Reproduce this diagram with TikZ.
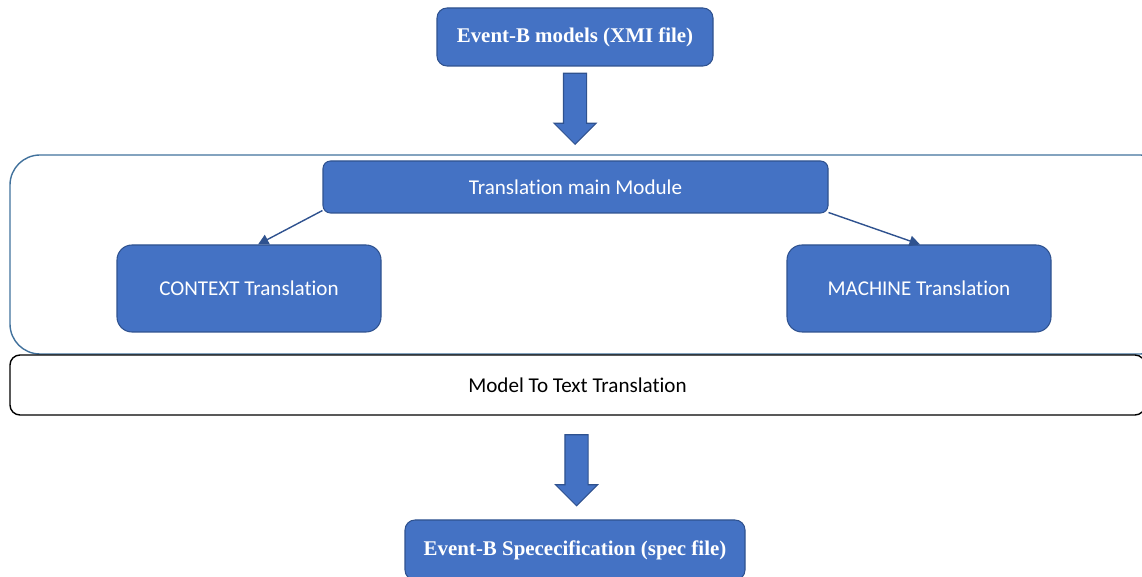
\documentclass[tikz,border=0pt]{standalone}
\usepackage{fontspec}
\setmainfont{Liberation Serif}
\setsansfont{Carlito}[Ligatures={NoCommon}]
\usetikzlibrary{positioning,arrows.meta,shapes.arrows}
\definecolor{boxblue}{HTML}{4472C4}
\definecolor{edgeblue}{HTML}{2F528F}
\definecolor{frameblue}{HTML}{41719C}
\begin{document}
\begin{tikzpicture}[>={Triangle[length=6pt,width=6pt]},
  bluebox/.style={draw=edgeblue,fill=boxblue,line width=0.6pt,text=white,inner sep=0pt},
  filebox/.style={bluebox,rounded corners=0.2cm,font=\fontsize{11.9}{14}\selectfont\bfseries},
  modbox/.style={bluebox,font=\sffamily\fontsize{12}{14}\selectfont},
  blockarrow/.style={single arrow,draw=edgeblue,fill=boxblue,line width=0.6pt,shape border rotate=270,
    minimum height=1.42cm,minimum width=0.82cm,single arrow head extend=0.19cm,
    single arrow tip angle=90,inner sep=0.22cm}]
  \useasboundingbox (0,0) rectangle (22.84,11.52);
  \draw[frameblue,line width=0.8pt,rounded corners=0.6cm] (0.2,4.44) rectangle (23.4,8.42);
  \node[filebox,minimum width=5.52cm,minimum height=1.16cm] (xmi) at (11.5,10.78) {Event-B models (XMI file)};
  \node[blockarrow] (arr1) at (11.5,9.46) {};
  \node[modbox,rounded corners=0.15cm,minimum width=10.1cm,minimum height=1.04cm] (main) at (11.51,7.78) {Translation main Module};
  \node[modbox,rounded corners=0.3cm,minimum width=5.28cm,minimum height=1.74cm] (ctx) at (4.98,5.75) {CONTEXT Translation};
  \node[modbox,rounded corners=0.3cm,minimum width=5.28cm,minimum height=1.74cm] (mach) at (18.38,5.75) {MACHINE Translation};
  \node[draw=black,line width=0.8pt,rounded corners=0.2cm,minimum width=22.7cm,minimum height=1.2cm,
    font=\sffamily\fontsize{12}{14}\selectfont] (m2t) at (11.55,3.82) {Model To Text Translation};
  \node[blockarrow] (arr2) at (11.53,2.23) {};
  \node[filebox,minimum width=6.8cm,minimum height=1.2cm] (spec) at (11.5,0.52) {Event-B Spececification (spec file)};
  \draw[->,edgeblue,line width=0.8pt] ([yshift=0.06cm]main.south west) -- ([xshift=0.18cm]ctx.north);
  \draw[->,edgeblue,line width=0.8pt] ([yshift=0.02cm]main.south east) -- ([xshift=0.02cm]mach.north);
\end{tikzpicture}
\end{document}
